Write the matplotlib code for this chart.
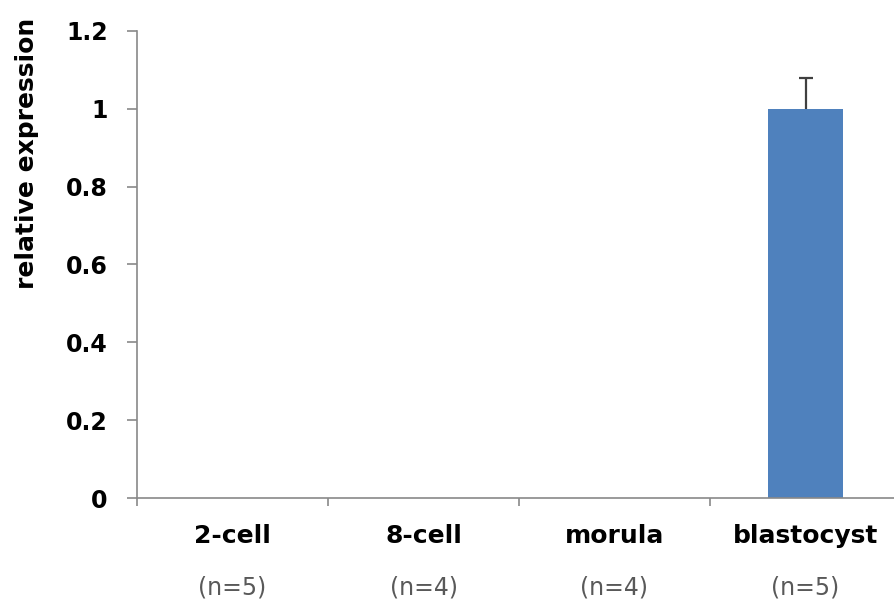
import matplotlib.pyplot as plt
from matplotlib.transforms import blended_transform_factory

stages = ['2-cell', '8-cell', 'morula', 'blastocyst']
sample_sizes = ['(n=5)', '(n=4)', '(n=4)', '(n=5)']
expression = [0.0, 0.0, 0.0, 1.0]
errors = [0.0, 0.0, 0.0, 0.08]
y_ticks = [0, 0.2, 0.4, 0.6, 0.8, 1.0, 1.2]
y_tick_labels = ['0', '0.2', '0.4', '0.6', '0.8', '1', '1.2']

W, H = 894, 606
fig = plt.figure(figsize=(W / 100, H / 100), dpi=100)
ax = fig.add_axes([137 / W, 108 / H, (901 - 137) / W, 467 / H])

x = list(range(len(stages)))
ax.bar(x, expression, width=0.39, color='#4F81BD', zorder=2)
# only the upper half of the error bar is drawn
shown = [i for i, e in enumerate(errors) if e > 0]
_, caps, _ = ax.errorbar([x[i] for i in shown], [expression[i] for i in shown],
                         yerr=[[0] * len(shown), [errors[i] for i in shown]],
                         fmt='none', ecolor='#404040', elinewidth=1.6,
                         capsize=5, capthick=1.6, zorder=3)
caps[0].set_visible(False)

ax.set_xlim(-0.5, len(stages) - 0.5)
ax.set_ylim(0, 1.2)
ax.set_yticks(y_ticks)
ax.set_yticklabels(y_tick_labels, fontsize=17, fontweight='bold')
ax.set_xticks([i - 0.5 for i in range(len(stages) + 1)])
ax.set_xticklabels([])

for side in ['top', 'right']:
    ax.spines[side].set_visible(False)
for side in ['left', 'bottom']:
    ax.spines[side].set_color('#898989')
    ax.spines[side].set_linewidth(1.2)
ax.tick_params(axis='y', length=7.2, width=1.2, color='#898989', pad=14)
ax.tick_params(axis='x', length=6, width=1.2, color='#898989')

fig.text(27 / W, 1 - 153 / H, 'relative expression', rotation=90,
         ha='center', va='center', fontsize=18, fontweight='bold')

trans = blended_transform_factory(ax.transData, fig.transFigure)
for i, (s, n) in enumerate(zip(stages, sample_sizes)):
    ax.text(i, 1 - 536 / H, s, transform=trans, ha='center', va='center',
            fontsize=18, fontweight='bold', color='black')
    ax.text(i, 1 - 588 / H, n, transform=trans, ha='center', va='center',
            fontsize=17, color='#595959')

fig.savefig('out.png', dpi=100)
